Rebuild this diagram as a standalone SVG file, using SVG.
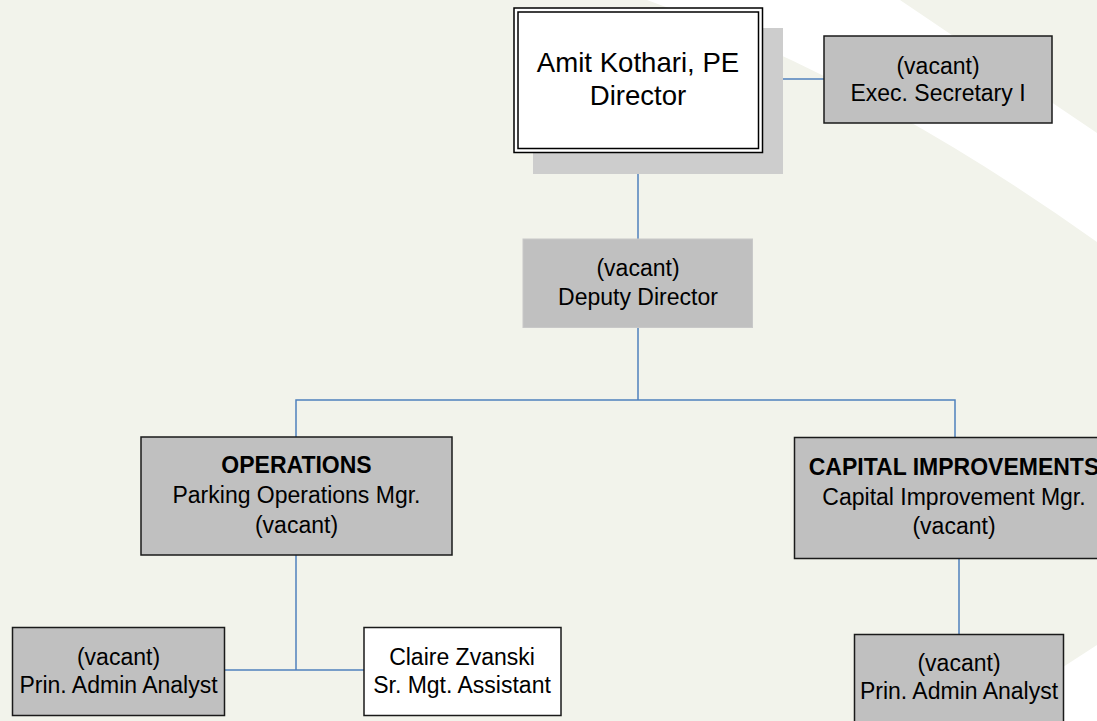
<svg xmlns="http://www.w3.org/2000/svg" width="1097" height="721" viewBox="0 0 1097 721">
<style>
text{font-family:"Liberation Sans",Arial,sans-serif;font-size:23px;fill:#000;text-anchor:middle}
.b{font-weight:bold}
.big{font-size:27.6px}
.box{fill:#c0c0c0;stroke:#1a1a1a;stroke-width:1.5}
.wbox{fill:#ffffff;stroke:#1a1a1a;stroke-width:1.5}
.conn{fill:none;stroke:#4f81bd;stroke-width:1.5}
</style>
<rect width="1097" height="721" fill="#f2f3eb"/>
<g id="background">
<path d="M647,0 L900,0 L1097,133 L1097,242 Q870,80 647,0 Z" fill="#ffffff"/>
<path d="M1097,645 L980,721 L1097,721 Z" fill="#ffffff"/>
</g>
<g id="connectors">
<line class="conn" x1="763" y1="79" x2="824" y2="79"/>
<line class="conn" x1="638" y1="153" x2="638" y2="239"/>
<line class="conn" x1="638" y1="328" x2="638" y2="400"/>
<polyline class="conn" points="296,437 296,400 955,400 955,437"/>
<line class="conn" x1="296" y1="555" x2="296" y2="670"/>
<line class="conn" x1="224" y1="670" x2="364" y2="670"/>
<line class="conn" x1="959" y1="558" x2="959" y2="634"/>
</g>
<g id="director">
<rect x="533" y="28" width="250" height="146" fill="#cdcdcd"/>
<rect x="514" y="8" width="248.5" height="144.5" fill="#ffffff" stroke="#000" stroke-width="1.5"/>
<rect x="518" y="12" width="240.5" height="136.5" fill="none" stroke="#000" stroke-width="1.5"/>
<text class="big" x="638" y="71.5">Amit Kothari, PE</text>
<text class="big" x="638" y="105">Director</text>
</g>
<g id="exec-secretary">
<rect class="box" x="824" y="36" width="228" height="87"/>
<text x="938" y="73.5">(vacant)</text>
<text x="938" y="101">Exec. Secretary I</text>
</g>
<g id="deputy-director">
<rect x="523" y="239" width="229.5" height="88.5" fill="#c0c0c0" stroke="#c8c8c8" stroke-width="1"/>
<text x="638" y="276">(vacant)</text>
<text x="638" y="305">Deputy Director</text>
</g>
<g id="operations">
<rect class="box" x="141" y="437" width="311" height="118"/>
<text class="b" x="296.5" y="473">OPERATIONS</text>
<text x="296.5" y="503">Parking Operations Mgr.</text>
<text x="296.5" y="533">(vacant)</text>
</g>
<g id="capital-improvements">
<rect class="box" x="794.5" y="437.5" width="320" height="121"/>
<text class="b" x="954" y="475">CAPITAL IMPROVEMENTS</text>
<text x="954" y="504.5">Capital Improvement Mgr.</text>
<text x="954" y="534">(vacant)</text>
</g>
<g id="ops-admin-analyst">
<rect class="box" x="12.5" y="627.5" width="212" height="88"/>
<text x="118.5" y="664.5">(vacant)</text>
<text x="118.5" y="692.5">Prin. Admin Analyst</text>
</g>
<g id="sr-mgt-assistant">
<rect class="wbox" x="364" y="627.5" width="197" height="88"/>
<text x="462" y="664.5">Claire Zvanski</text>
<text x="462" y="692.5">Sr. Mgt. Assistant</text>
</g>
<g id="cap-admin-analyst">
<rect class="box" x="854.5" y="634.5" width="209" height="100"/>
<text x="959" y="670.5">(vacant)</text>
<text x="959" y="699">Prin. Admin Analyst</text>
</g>
</svg>
